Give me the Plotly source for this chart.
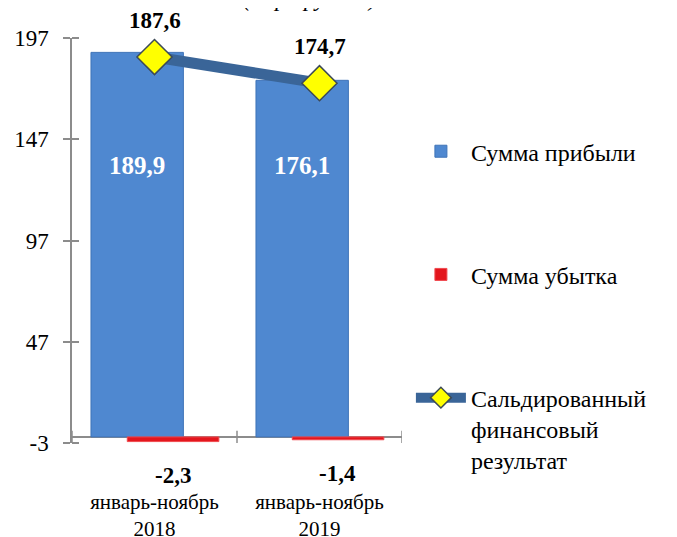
import plotly.graph_objects as go

categories = ["январь-ноябрь<br>2018", "январь-ноябрь<br>2019"]
profit = [189.9, 176.1]
loss = [-2.3, -1.4]
balance = [187.6, 174.7]
profit_labels = ["189,9", "176,1"]
loss_labels = ["-2,3", "-1,4"]
balance_labels = ["187,6", "174,7"]
y_ticks = [-3, 47, 97, 147, 197]
y_tick_text = ["-3", "47", "97", "147", "197"]
profit_label_level = 134

SERIF = "Liberation Serif, Times New Roman, serif"
AXIS = "#8c8c8c"

fig = go.Figure()
fig.add_trace(go.Bar(
    x=categories, y=profit, name="Сумма прибыли",
    width=0.56, offset=-0.385,
    marker=dict(color="#4f88d0", line=dict(color="#3f73b8", width=1)),
    legendgroup="a",
))
fig.add_trace(go.Bar(
    x=categories, y=loss, name="Сумма убытка",
    width=0.555, offset=-0.165,
    marker=dict(color="#e3161d", line=dict(color="#f04a4f", width=1)),
    legendgroup="b",
))
fig.add_trace(go.Scatter(
    x=categories, y=balance, name="Сальдированный<br>финансовый<br>результат",
    mode="lines+markers",
    line=dict(color="#3a6598", width=11),
    marker=dict(symbol="diamond", size=27, color="#ffff00",
                line=dict(color="#3d4a57", width=1.5)),
    cliponaxis=False,
    legendgroup="c",
))

for i, (v, t) in enumerate(zip(balance, balance_labels)):
    fig.add_annotation(x=i, y=v, xref="x", yref="y", text=f"<b>{t}</b>",
                       showarrow=False, yshift=37,
                       font=dict(family=SERIF, size=23, color="black"))
for i, t in enumerate(profit_labels):
    fig.add_annotation(x=i - 0.105, y=profit_label_level, xref="x", yref="y",
                       text=f"<b>{t}</b>", showarrow=False,
                       font=dict(family=SERIF, size=25, color="white"))
for i, (v, t) in enumerate(zip(loss, loss_labels)):
    fig.add_annotation(x=i + 0.11, y=v, xref="x", yref="y",
                       text=f"<b>{t}</b>", showarrow=False, yshift=-34,
                       font=dict(family=SERIF, size=23, color="black"))

fig.add_annotation(xref="paper", yref="paper", x=0.72, xanchor="center",
                   y=1, yanchor="bottom",
                   yshift=25, text="<i>(млрд рублей)</i>", showarrow=False,
                   font=dict(family=SERIF, size=23, color="black"))

# category boundary ticks on the zero line
for xb in [-0.5, 0.5, 1.5]:
    fig.add_shape(type="line", xref="x", yref="y", x0=xb, x1=xb, y0=-3, y1=3,
                  line=dict(color=AXIS, width=1.5))

fig.update_layout(
    width=669, height=529,
    margin=dict(l=64, r=275, t=30, b=94, autoexpand=False),
    paper_bgcolor="white", plot_bgcolor="white",
    barmode="overlay",
    font=dict(family=SERIF, color="black"),
    showlegend=True,
    legend=dict(x=1.027, xanchor="left", y=0.775, yanchor="top",
                traceorder="grouped", tracegroupgap=89, valign="top",
                font=dict(family=SERIF, size=24, color="black"),
                itemwidth=50, bgcolor="rgba(0,0,0,0)"),
    xaxis=dict(range=[-0.5, 1.5], showgrid=False, zeroline=False,
               showline=False, ticks="", ticklabelstandoff=44, automargin=False,
               tickfont=dict(family=SERIF, size=21, color="black")),
    yaxis=dict(range=[-3, 197], tickvals=y_ticks, ticktext=y_tick_text,
               showgrid=False, automargin=False,
               zeroline=True, zerolinecolor=AXIS, zerolinewidth=1.5,
               showline=True, linecolor=AXIS, linewidth=1.5,
               ticks="outside", ticklen=7, tickcolor=AXIS, tickwidth=1.5,
               minor=dict(tickvals=y_ticks, ticks="inside", ticklen=7,
                          tickcolor=AXIS, tickwidth=1.5),
               ticklabelstandoff=10,
               tickfont=dict(family=SERIF, size=23, color="black")),
)

fig.write_html("out.html")
